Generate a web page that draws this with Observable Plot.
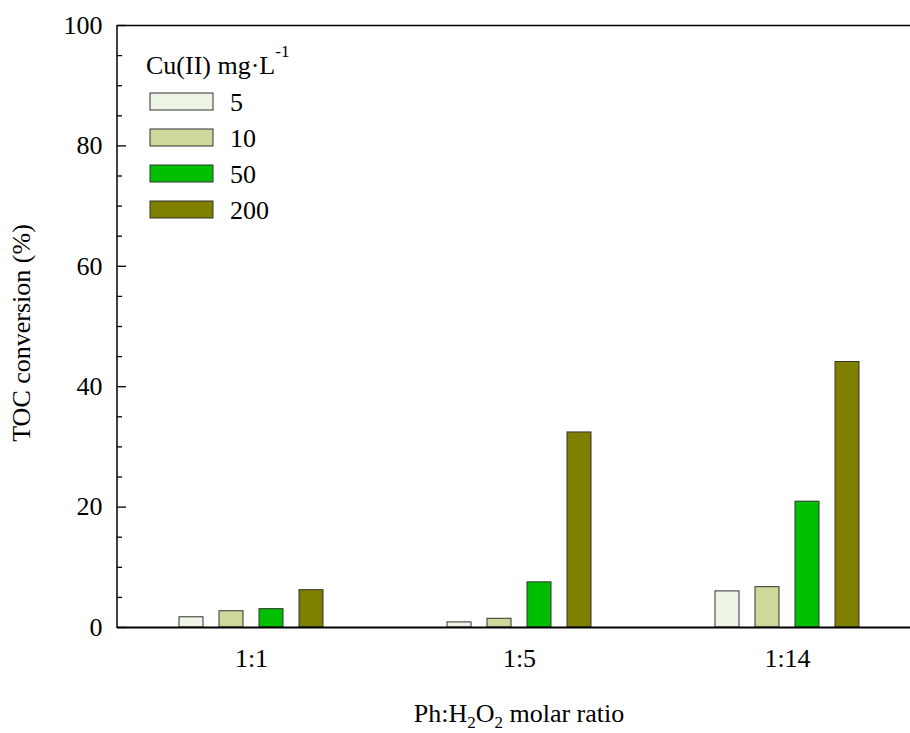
<!DOCTYPE html>
<html><head><meta charset="utf-8">
<script src="https://cdn.jsdelivr.net/npm/d3@7"></script>
<script src="https://cdn.jsdelivr.net/npm/@observablehq/plot@0.6"></script>
<style>html,body{margin:0;padding:0;background:#fff;overflow:hidden;width:910px;height:733px}#chart{width:930px}svg{max-width:none!important}</style>
</head><body><div id="chart"></div>
<script>
const ratios = ["1:1", "1:5", "1:14"];
const concentrations = ["5", "10", "50", "200"];
const toc5 = [1.7, 0.85, 6.0];
const toc10 = [2.7, 1.45, 6.7];
const toc50 = [3.05, 7.5, 20.9];
const toc200 = [6.2, 32.4, 44.1];
const colors = ["#eef5e6", "#ccd99a", "#00bf00", "#808000"];
const yTicks = [0, 20, 40, 60, 80, 100];
const yMinorTicks = [5, 10, 15, 25, 30, 35, 45, 50, 55, 65, 70, 75, 85, 90, 95];
const legendTitle = "Cu(II) mg·L";
const legendTitleSup = "-1";
const yTitle = "TOC conversion (%)";

const series = [toc5, toc10, toc50, toc200];
const rows = ratios.flatMap((r, i) => concentrations.map((c, j) => ({ratio: r, conc: c, value: series[j][i]})));

const font = "'Liberation Serif', 'Times New Roman', serif";
const plot = Plot.plot({
  width: 930, height: 733,
  marginLeft: 117, marginRight: 9, marginTop: 25, marginBottom: 106,
  style: {fontFamily: font, fontSize: "26px", color: "#000", background: "#fff", maxWidth: "none"},
  fx: {domain: ratios, padding: 0, label: null},
  x: {domain: concentrations, paddingInner: 0.4, paddingOuter: 1.55, axis: null},
  y: {domain: [0, 100], label: null},
  color: {domain: concentrations, range: colors},
  marks: [
    Plot.barY(rows, {fx: "ratio", x: "conc", y: "value", fill: "conc", stroke: "#333", strokeWidth: 1}),
    Plot.ruleY([0], {stroke: "#000", strokeWidth: 2}),
    Plot.ruleY([100], {stroke: "#000", strokeWidth: 1.5}),
    Plot.axisY(yTicks, {tickSize: 0, tickPadding: 15, label: null, fontSize: 26}),
    Plot.axisY(yTicks, {tickSize: -9, fill: "none", strokeWidth: 1.3, label: null}),
    Plot.axisY(yMinorTicks, {tickSize: -5, fill: "none", strokeWidth: 1.3, label: null}),
    Plot.axisFx({anchor: "bottom", tickSize: 0, tickPadding: 21, label: null, fontSize: 26})
  ]
});
plot.style.maxWidth = "none";
document.getElementById("chart").append(plot);

const svg = d3.select(plot);
const fxRange = plot.scale("fx").range;
const yRange = plot.scale("y").range;
svg.append("line")
  .attr("x1", fxRange[0]).attr("x2", fxRange[0])
  .attr("y1", yRange[0] + 1).attr("y2", yRange[1])
  .attr("stroke", "#000").attr("stroke-width", 1.5);

// y title
svg.append("text")
  .attr("transform", `translate(30,333) rotate(-90)`)
  .attr("text-anchor", "middle")
  .attr("font-family", font).attr("font-size", 26).attr("fill", "#000")
  .text(yTitle);

// x title with subscripts
const xt = svg.append("text")
  .attr("x", (fxRange[0] + fxRange[1]) / 2).attr("y", 722)
  .attr("text-anchor", "middle")
  .attr("font-family", font).attr("font-size", 26).attr("fill", "#000");
xt.append("tspan").text("Ph:H");
xt.append("tspan").attr("font-size", 17).attr("dy", 6).text("2");
xt.append("tspan").attr("dy", -6).text("O");
xt.append("tspan").attr("font-size", 17).attr("dy", 6).text("2");
xt.append("tspan").attr("dy", -6).text(" molar ratio");

// legend
const lg = svg.append("g").attr("font-family", font).attr("fill", "#000").attr("text-anchor", "start");
const lt = lg.append("text").attr("x", 146).attr("y", 74).attr("font-size", 26);
lt.append("tspan").text(legendTitle);
lt.append("tspan").attr("font-size", 17).attr("dy", -17).text(legendTitleSup);
concentrations.forEach((c, i) => {
  const y0 = 93 + 36 * i;
  lg.append("rect").attr("x", 150).attr("y", y0).attr("width", 63).attr("height", 17)
    .attr("fill", colors[i]).attr("stroke", "#333").attr("stroke-width", 1);
  lg.append("text").attr("x", 230).attr("y", y0 + 18).attr("font-size", 26).text(c);
});
</script>
</body></html>
